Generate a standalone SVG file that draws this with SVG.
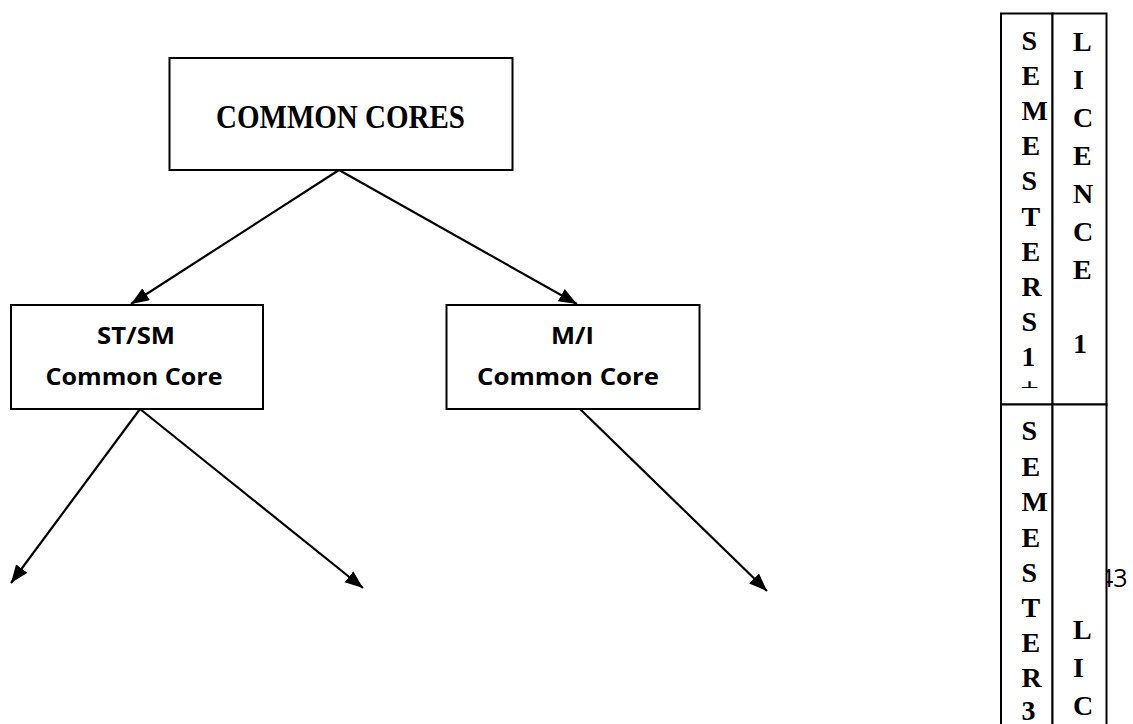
<svg xmlns="http://www.w3.org/2000/svg" width="1133" height="724" viewBox="0 0 1133 724">
  <style>
    .box { fill: #ffffff; stroke: #000000; stroke-width: 2; }
    .cell { fill: #ffffff; stroke: #000000; stroke-width: 2; }
    .edge { stroke: #000000; stroke-width: 2.2; fill: none; marker-end: url(#arrow); }
    .serif { font-family: "Liberation Serif", "Times New Roman", serif; font-weight: bold; fill: #000000; }
    .sans { font-family: "Open Sans", "Liberation Sans", Arial, sans-serif; font-weight: bold; fill: #000000; }
    .col { font-family: "Liberation Serif", "Times New Roman", serif; font-weight: bold; font-size: 28px; fill: #000000; }
    .page { font-family: "Open Sans", "Liberation Sans", Arial, sans-serif; font-size: 25px; fill: #000000; }
  </style>
  <defs>
    <marker id="arrow" markerUnits="userSpaceOnUse" markerWidth="19" markerHeight="15" refX="18" refY="7" orient="auto">
      <path d="M0,0 L18,7 L0,14 Z" fill="#000000"/>
    </marker>
  </defs>

  <rect width="1133" height="724" fill="#ffffff"/>

  <!-- connectors -->
  <g id="connectors">
    <line class="edge" x1="339" y1="170" x2="131" y2="304"/>
    <line class="edge" x1="339" y1="170" x2="577" y2="304"/>
    <line class="edge" x1="140" y1="409" x2="11" y2="583"/>
    <line class="edge" x1="140" y1="409" x2="363" y2="588"/>
    <line class="edge" x1="580" y1="409" x2="767" y2="591"/>
  </g>

  <!-- root node -->
  <g id="node-common-cores">
    <rect class="box" x="169.5" y="58" width="343" height="112"/>
    <text class="serif" x="340.5" y="128" font-size="33" text-anchor="middle" textLength="249" lengthAdjust="spacingAndGlyphs">COMMON CORES</text>
  </g>

  <!-- ST/SM branch -->
  <g id="node-st-sm">
    <rect class="box" x="11" y="305" width="252" height="104"/>
    <text class="sans" x="136" y="344" font-size="24" text-anchor="middle" textLength="78" lengthAdjust="spacingAndGlyphs">ST/SM</text>
    <text class="sans" x="134" y="385" font-size="24" text-anchor="middle" textLength="177" lengthAdjust="spacingAndGlyphs">Common Core</text>
  </g>

  <!-- M/I branch -->
  <g id="node-m-i">
    <rect class="box" x="446.5" y="305" width="253" height="104"/>
    <text class="sans" x="572.5" y="344" font-size="24" text-anchor="middle" textLength="43" lengthAdjust="spacingAndGlyphs">M/I</text>
    <text class="sans" x="568" y="385" font-size="24" text-anchor="middle" textLength="182" lengthAdjust="spacingAndGlyphs">Common Core</text>
  </g>

  <!-- page number, partly covered by the side table -->
  <text class="page" x="1099" y="587">43</text>

  <!-- side table: semesters and licence years -->
  <g id="side-table">
    <rect class="cell" x="1001" y="13.5" width="51.5" height="391"/>
    <rect class="cell" x="1052.5" y="13.5" width="54" height="391"/>
    <rect class="cell" x="1001" y="404.5" width="51.5" height="330"/>
    <rect class="cell" x="1052.5" y="404.5" width="54" height="330"/>

    <g class="col">
      <text x="1021.5" y="49.5">S</text>
      <text x="1021.5" y="84.7">E</text>
      <text x="1021.5" y="119.9">M</text>
      <text x="1021.5" y="155.1">E</text>
      <text x="1021.5" y="190.3">S</text>
      <text x="1021.5" y="225.5">T</text>
      <text x="1021.5" y="260.7">E</text>
      <text x="1021.5" y="295.9">R</text>
      <text x="1021.5" y="331.1">S</text>
      <text x="1021.5" y="366.3">1</text>
    </g>
    <text x="1020" y="388" font-family="DejaVu Sans, sans-serif" font-weight="bold" font-size="16" transform="translate(1020 388) scale(1.3 0.6) translate(-1020 -388)">⊥</text>

    <g class="col">
      <text x="1073" y="51">L</text>
      <text x="1073" y="89">I</text>
      <text x="1073" y="127">C</text>
      <text x="1073" y="165">E</text>
      <text x="1073" y="203">N</text>
      <text x="1073" y="241">C</text>
      <text x="1073" y="279">E</text>
      <text x="1073" y="353">1</text>
    </g>

    <g class="col">
      <text x="1021.5" y="440">S</text>
      <text x="1021.5" y="475.5">E</text>
      <text x="1021.5" y="510.5">M</text>
      <text x="1021.5" y="546.5">E</text>
      <text x="1021.5" y="581.5">S</text>
      <text x="1021.5" y="616.5">T</text>
      <text x="1021.5" y="651.5">E</text>
      <text x="1021.5" y="687">R</text>
      <text x="1021.5" y="720">3</text>
    </g>

    <g class="col">
      <text x="1073" y="638.5">L</text>
      <text x="1073" y="676.5">I</text>
      <text x="1073" y="715">C</text>
    </g>
  </g>
</svg>
